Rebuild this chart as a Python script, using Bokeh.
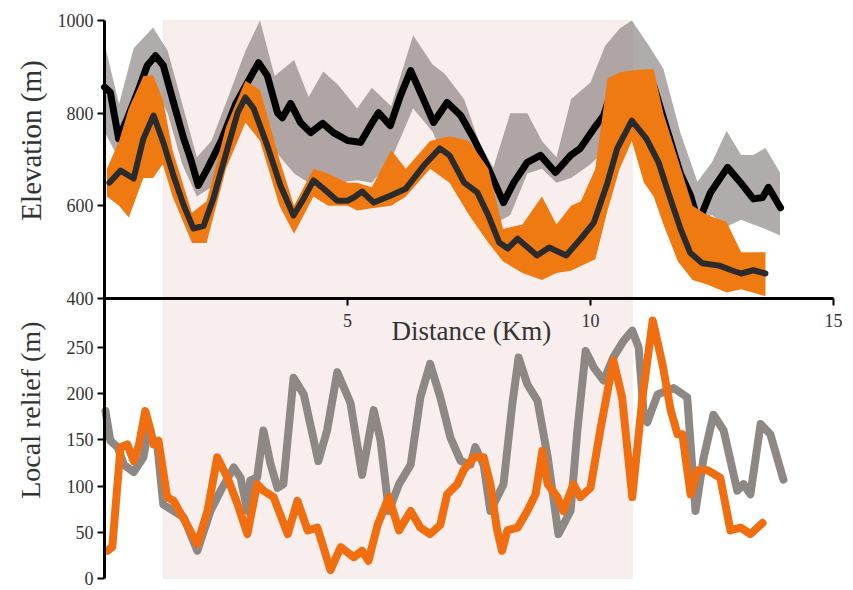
from bokeh.plotting import figure
from bokeh.models import Range1d, LinearAxis, FixedTicker, BoxAnnotation, Label
from bokeh.embed import file_html
from bokeh.resources import INLINE

# ---------------- data ----------------
# Elevation profile A (gray band + black mean line)
a_band_x = [0, 0.3, 0.6, 1.0, 1.3, 1.6, 1.9, 2.2, 2.6, 2.9, 3.2, 3.5, 3.9, 4.2, 4.5, 4.8,
            5.2, 5.5, 5.9, 6.35, 6.75, 7.0, 7.4, 7.7, 8.0, 8.35, 8.7, 9.0, 9.3, 9.6, 10.0,
            10.3, 10.6, 10.85, 11.2, 11.5, 11.85, 12.2, 12.5, 12.8, 13.1, 13.35, 13.6, 13.9]
a_upper = [950, 820, 940, 985, 935, 820, 705, 740, 850, 935, 1000, 880, 915, 835, 890, 862,
           810, 855, 815, 968, 905, 885, 830, 740, 682, 800, 800, 740, 705, 830, 866,
           945, 983, 1000, 946, 896, 758, 652, 694, 762, 710, 710, 725, 672]
a_lower = [760, 700, 730, 860, 800, 690, 620, 640, 740, 800, 800, 720, 670, 650, 655, 650,
           655, 650, 700, 810, 760, 700, 650, 600, 560, 580, 670, 680, 650, 660, 690,
           720, 760, 800, 760, 700, 620, 565, 580, 555, 570, 560, 550, 536]
a_line_x = [0, 0.12, 0.29, 0.47, 0.68, 0.88, 1.05, 1.21, 1.42, 1.63, 1.77, 1.93, 2.12, 2.4,
            2.7, 2.94, 3.17, 3.35, 3.56, 3.66, 3.83, 4.03, 4.24, 4.49, 4.71, 5.0, 5.27, 5.47,
            5.64, 5.88, 6.09, 6.3, 6.5, 6.77, 7.05, 7.33, 7.6, 7.9, 8.21, 8.42, 8.7, 8.97,
            9.28, 9.59, 9.79, 10.07, 10.27, 10.47, 10.7, 11.03, 11.3, 11.5, 11.85, 12.06,
            12.22, 12.47, 12.82, 13.09, 13.35, 13.54, 13.66, 13.91]
a_line = [856, 845, 745, 789, 845, 903, 924, 903, 823, 745, 702, 644, 681, 740,
          820, 866, 909, 881, 801, 790, 821, 780, 758, 778, 758, 741, 737, 773,
          801, 773, 838, 892, 845, 780, 823, 795, 745, 680, 607, 650, 694, 709,
          672, 709, 724, 767, 795, 860, 875, 877, 860, 790, 670, 622,
          564, 629, 683, 650, 615, 618, 640, 596]

# Elevation profile B (orange band + dark mean line)
b_band_x = [0.05, 0.3, 0.5, 0.8, 1.0, 1.2, 1.4, 1.8, 2.1, 2.5, 2.9, 3.2, 3.6, 3.9, 4.3, 4.6,
            5.0, 5.2, 5.5, 5.9, 6.2, 6.7, 7.1, 7.5, 7.9, 8.2, 8.6, 9.0, 9.3, 9.6, 9.8, 10.1,
            10.35, 10.6, 10.85, 11.1, 11.3, 11.5, 11.8, 12.1, 12.4, 12.8, 13.1, 13.6]
b_upper = [680, 740, 810, 880, 882, 830, 720, 585, 610, 770, 870, 850, 700, 600, 680, 670,
           650, 650, 640, 720, 680, 740, 750, 740, 680, 550, 560, 620, 560, 600, 610, 680,
           875, 888, 892, 895, 895, 800, 700, 600, 580, 565, 500, 500]
b_lower = [620, 600, 575, 660, 660, 690, 620, 520, 520, 680, 780, 740, 600, 540, 620, 600,
           600, 590, 595, 600, 620, 680, 650, 580, 520, 480, 455, 440, 455, 460, 470, 485,
           590, 680, 740, 650, 620, 560, 480, 440, 430, 413, 420, 405]
b_line_x = [0.1, 0.33, 0.6, 0.8, 1.01, 1.21, 1.42, 1.63, 1.83, 2.04, 2.24, 2.53, 2.74, 2.9,
            3.07, 3.35, 3.62, 3.89, 4.1, 4.3, 4.51, 4.79, 5.0, 5.13, 5.3, 5.54, 5.88, 6.2,
            6.57, 6.9, 7.1, 7.4, 7.67, 7.9, 8.12, 8.3, 8.5, 8.9, 9.15, 9.5, 9.8, 10.07,
            10.35, 10.55, 10.85, 11.15, 11.4, 11.6, 11.85, 12.05, 12.3, 12.65, 12.9, 13.1,
            13.35, 13.6]
b_line = [650, 676, 659, 745, 795, 737, 665, 601, 551, 557, 616, 724, 801, 834,
          810, 730, 644, 579, 616, 655, 637, 611, 611, 618, 631, 607, 622, 637,
          687, 724, 709, 650, 629, 579, 521, 508, 529, 493, 510, 493, 529, 564,
          650, 724, 784, 745, 694, 629, 551, 499, 476, 471, 461, 454,
          461, 454]

# Local relief A (gray)
ra_x = [0.02, 0.12, 0.27, 0.4, 0.6, 0.8, 0.9, 1.09, 1.21, 1.42, 1.63, 1.91, 2.18, 2.39,
        2.66, 2.8, 2.94, 3.0, 3.14, 3.27, 3.42, 3.56, 3.68, 3.89, 4.1, 4.4, 4.58, 4.79,
        5.06, 5.3, 5.54, 5.68, 5.85, 6.06, 6.3, 6.5, 6.7, 6.91, 7.12, 7.33, 7.53, 7.63,
        7.8, 7.94, 8.21, 8.39, 8.52, 8.7, 8.91, 9.12, 9.34, 9.59, 9.73, 9.9, 10.07, 10.27,
        10.47, 10.68, 10.86, 10.99, 11.1, 11.17, 11.38, 11.71, 11.99, 12.16, 12.33, 12.53,
        12.74, 13.02, 13.15, 13.29, 13.5, 13.7, 13.97]
ra_y = [181, 149, 142, 123, 115, 131, 160, 142, 80, 73, 66, 30, 73, 95,
        120, 109, 73, 106, 109, 160, 123, 98, 102, 217, 199, 127, 160, 223,
        190, 112, 182, 149, 73, 102, 123, 196, 232, 196, 152, 127, 123, 142,
        123, 73, 102, 188, 239, 210, 192, 131, 48, 73, 160, 246, 228, 214,
        239, 257, 268, 250, 174, 169, 199, 206, 196, 73, 131, 177,
        160, 95, 102, 91, 167, 156, 107]

# Local relief B (orange)
rb_x = [0.06, 0.16, 0.33, 0.47, 0.6, 0.71, 0.84, 0.95, 1.01, 1.11, 1.29, 1.42, 1.7, 1.91,
        2.12, 2.32, 2.53, 2.74, 2.94, 3.14, 3.27, 3.48, 3.77, 3.97, 4.18, 4.38, 4.65, 4.86,
        5.13, 5.3, 5.43, 5.62, 5.85, 6.06, 6.3, 6.5, 6.7, 6.91, 7.05, 7.26, 7.39, 7.6,
        7.8, 7.94, 8.08, 8.18, 8.29, 8.5, 8.7, 8.87, 9.01, 9.12, 9.32, 9.44, 9.65, 9.79,
        10.0, 10.2, 10.47, 10.65, 10.86, 11.07, 11.28, 11.48, 11.65, 11.79, 11.89, 12.06,
        12.2, 12.41, 12.67, 12.88, 13.09, 13.29, 13.54]
rb_y = [30, 34, 142, 145, 127, 145, 181, 160, 145, 149, 88, 84, 58, 37,
        73, 131, 109, 80, 48, 102, 95, 88, 48, 84, 52, 55, 9, 34,
        23, 30, 19, 58, 88, 52, 73, 55, 48, 58, 91, 102, 117, 131,
        131, 102, 52, 30, 52, 55, 73, 91, 138, 102, 88, 73, 102, 88,
        98, 160, 236, 196, 88, 196, 279, 232, 182, 156, 156, 91,
        117, 117, 109, 52, 55, 48, 60]

SHADE = [1.21, 10.86]           # shaded distance interval (km)
X_TICKS = [5, 10, 15]
ELEV_TICKS = [400, 600, 800, 1000]
RELIEF_TICKS = [0, 50, 100, 150, 200, 250]

# ---------------- figure ----------------
FONT = "Liberation Serif"
TXT = "#333333"

# the frame fills the whole canvas; axes are pinned at data locations
p = figure(width=850, height=590, output_backend="svg", toolbar_location=None,
           x_axis_location=None, y_axis_location=None, title=None,
           x_range=Range1d(-2.14, 15.35), y_range=Range1d(-12.97, 624.9),
           min_border_left=0, min_border_right=0, min_border_top=0, min_border_bottom=0)
p.extra_y_ranges = {"elev": Range1d(-230.2, 1043.2)}
p.outline_line_color = None
p.background_fill_color = "white"
p.border_fill_color = "white"
for g in p.grid:
    g.visible = False

# shaded interval (from relief 0 up to the top of the elevation panel)
p.add_layout(BoxAnnotation(left=SHADE[0], right=SHADE[1], bottom=0, top=603.2,
                           fill_color="#f9eeee", fill_alpha=1.0,
                           line_color="#d9cfcf", line_width=1, level="underlay"))

# elevation bands + lines
p.varea(x=a_band_x, y1=a_lower, y2=a_upper, y_range_name="elev",
        fill_color="#7d7575", fill_alpha=0.6)
p.line(a_line_x, a_line, y_range_name="elev", line_color="black", line_width=7,
       line_join="round", line_cap="round")
p.varea(x=b_band_x, y1=b_lower, y2=b_upper, y_range_name="elev",
        fill_color="#f07a12", fill_alpha=1.0)
p.line(b_line_x, b_line, y_range_name="elev", line_color="#2b2b2b", line_width=6,
       line_join="round", line_cap="round")

# local relief lines
p.line(ra_x, ra_y, line_color="#8e8884", line_width=8, line_join="round", line_cap="round")
p.line(rb_x, rb_y, line_color="#f06e10", line_width=8, line_join="round", line_cap="round")

# axes
def style(ax):
    ax.axis_line_width = 3
    ax.axis_line_color = "black"
    ax.major_tick_line_width = 2
    ax.major_tick_line_color = "black"
    ax.major_tick_out = 7
    ax.major_tick_in = 0
    ax.minor_tick_line_color = None
    ax.major_label_text_font = FONT
    ax.major_label_text_font_size = "18px"
    ax.major_label_text_color = TXT

xax = LinearAxis(y_range_name="elev", fixed_location=400, bounds=(0, 15),
                 ticker=FixedTicker(ticks=X_TICKS))
style(xax)
xax.major_label_standoff = 8
p.add_layout(xax, "below")

eax = LinearAxis(y_range_name="elev", fixed_location=0, bounds=(400, 1000),
                 ticker=FixedTicker(ticks=ELEV_TICKS))
style(eax)
eax.major_label_standoff = 4
p.add_layout(eax, "left")

rax = LinearAxis(fixed_location=0, bounds=(0, 302.7), ticker=FixedTicker(ticks=RELIEF_TICKS))
style(rax)
rax.major_label_standoff = 4
p.add_layout(rax, "left")

# axis titles
p.add_layout(Label(x=-1.52, y=741, y_range_name="elev", text="Elevation (m)",
                   angle=90, angle_units="deg", text_align="center", text_baseline="middle",
                   text_font=FONT, text_font_size="29px", text_color=TXT))
p.add_layout(Label(x=-1.52, y=182, text="Local relief (m)",
                   angle=90, angle_units="deg", text_align="center", text_baseline="middle",
                   text_font=FONT, text_font_size="28px", text_color=TXT))
p.add_layout(Label(x=7.55, y=268, text="Distance (Km)",
                   text_align="center", text_baseline="middle",
                   text_font=FONT, text_font_size="27px", text_color=TXT))

open("out.html", "w").write(file_html(p, INLINE))
